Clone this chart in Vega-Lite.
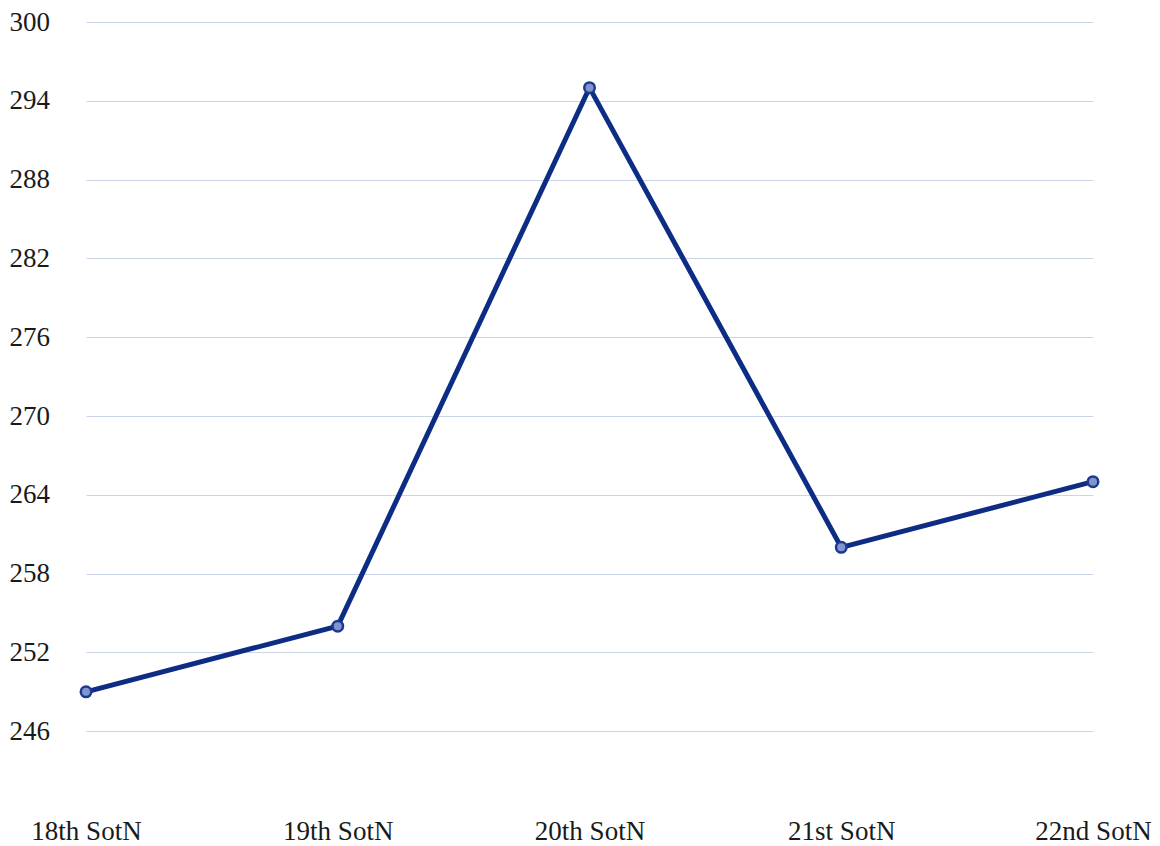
{
  "$schema": "https://vega.github.io/schema/vega-lite/v6.json",
  "width": 1007,
  "height": 788,
  "autosize": {"type": "none"},
  "padding": {"left": 86, "top": 22, "right": 67, "bottom": 36},
  "background": "white",
  "config": {"view": {"stroke": null}, "font": "Liberation Serif"},
  "data": {"values": [
    {"session": "18th SotN", "value": 249},
    {"session": "19th SotN", "value": 254},
    {"session": "20th SotN", "value": 295},
    {"session": "21st SotN", "value": 260},
    {"session": "22nd SotN", "value": 265}
  ]},
  "encoding": {
    "x": {"field": "session", "type": "ordinal", "sort": null,
      "scale": {"type": "point", "padding": 0},
      "axis": {"title": null, "labelAngle": 0, "labelFontSize": 27, "labelColor": "#1a1a1a", "labelFont": "Liberation Serif", "ticks": false, "domain": false, "grid": false, "labelPadding": 8, "labelBaseline": "top"}},
    "y": {"field": "value", "type": "quantitative",
      "scale": {"domain": [240, 300], "nice": false, "zero": false},
      "axis": {"title": null, "values": [246, 252, 258, 264, 270, 276, 282, 288, 294, 300], "labelFontSize": 27, "labelColor": "#1a1a1a", "labelFont": "Liberation Serif", "ticks": false, "domain": false, "grid": true, "gridColor": "#ccd4ea", "gridWidth": 1, "labelAlign": "left", "labelPadding": 77}}
  },
  "layer": [
    {"mark": {"type": "line", "color": "#0d2d85", "strokeWidth": 5}},
    {"mark": {"type": "point", "filled": true, "fill": "#8294cd", "stroke": "#1b3a8f", "strokeWidth": 2.5, "size": 110, "opacity": 1}}
  ]
}
